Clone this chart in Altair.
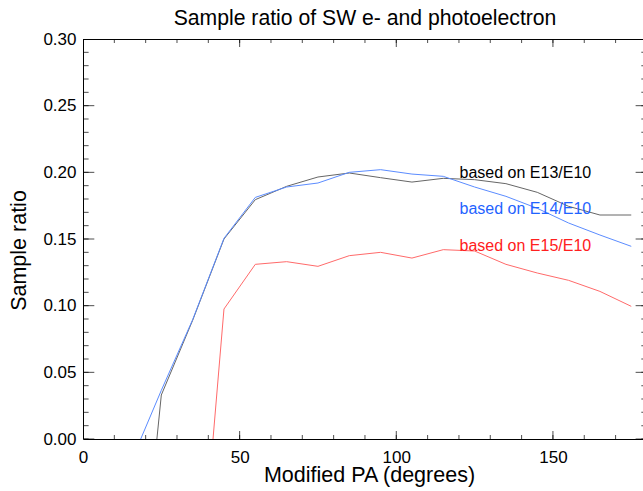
import altair as alt
import pandas as pd

# ---- data ----
pa = [15, 25, 35, 45, 55, 65, 75, 85, 95, 105, 115, 125, 135, 145, 155, 165, 175]
ratio_e13 = [-0.200, 0.033, 0.089, 0.150, 0.1795, 0.1895, 0.1965, 0.1995, 0.196,
             0.1927, 0.1955, 0.1945, 0.1915, 0.185, 0.1745, 0.168, 0.168]
ratio_e14 = [-0.019, 0.0365, 0.0895, 0.1505, 0.1812, 0.189, 0.192, 0.200, 0.202,
             0.1987, 0.197, 0.189, 0.182, 0.173, 0.162, 0.153, 0.1445]
pa_e15 = [35, 45, 55, 65, 75, 85, 95, 105, 115, 125, 135, 145, 155, 165, 175]
ratio_e15 = [-0.181, 0.0975, 0.131, 0.133, 0.1295, 0.1375, 0.140, 0.1357, 0.142,
             0.141, 0.131, 0.1245, 0.119, 0.1107, 0.0995]

series_names = ["based on E13/E10", "based on E14/E10", "based on E15/E10"]
line_colors = ["#666666", "#5b8cff", "#ff6a6a"]
text_colors = ["#000000", "#1f63ff", "#ff2020"]
label_pa = [120.2, 120.2, 120.2]
label_ratio = [0.1957, 0.169, 0.1407]

x_major = [0, 50, 100, 150]
x_minor = [0, 10, 20, 30, 40, 50, 60, 70, 80, 90, 100, 110, 120, 130, 140, 150, 160, 170, 180]
y_major = [0.0, 0.05, 0.10, 0.15, 0.20, 0.25, 0.30]
y_minor = [0.00, 0.01, 0.02, 0.03, 0.04, 0.05, 0.06, 0.07, 0.08, 0.09, 0.10,
           0.11, 0.12, 0.13, 0.14, 0.15, 0.16, 0.17, 0.18, 0.19, 0.20,
           0.21, 0.22, 0.23, 0.24, 0.25, 0.26, 0.27, 0.28, 0.29, 0.30]

rows = []
for name, xs, ys in [(series_names[0], pa, ratio_e13),
                     (series_names[1], pa, ratio_e14),
                     (series_names[2], pa_e15, ratio_e15)]:
    for i, (a, b) in enumerate(zip(xs, ys)):
        rows.append({"pa": a, "ratio": b, "series": name, "i": i})
lines_df = pd.DataFrame(rows)

labels_df = pd.DataFrame({"pa": label_pa, "ratio": label_ratio,
                          "text": series_names, "color": text_colors})

FONT = "Liberation Sans"
xscale = alt.Scale(domain=[0, 178.75], nice=False, zero=False)
yscale = alt.Scale(domain=[0, 0.30], nice=False, zero=False)

xaxis = alt.Axis(values=x_major, tickSize=0, labelPadding=10, labelFontSize=17,
                 labelFont=FONT, labelColor="black", labelFlush=False,
                 title="Modified PA (degrees)", titleFont=FONT, titleFontSize=21.5,
                 titleFontWeight="normal", titleColor="black", titlePadding=-1,
                 titleX=286, domainColor="black", domainWidth=1, grid=False)
yaxis = alt.Axis(values=y_major, format=".2f", tickSize=0, labelPadding=7,
                 labelFontSize=17, labelFont=FONT, labelColor="black", labelFlush=False,
                 title="Sample ratio", titleFont=FONT, titleFontSize=21.5,
                 titleFontWeight="normal", titleColor="black", titlePadding=12,
                 titleY=211, domainColor="black", domainWidth=1, grid=False)

lines = alt.Chart(lines_df).mark_line(clip=True, strokeWidth=1).encode(
    x=alt.X("pa:Q", scale=xscale, axis=xaxis),
    y=alt.Y("ratio:Q", scale=yscale, axis=yaxis),
    color=alt.Color("series:N", scale=alt.Scale(domain=series_names, range=line_colors),
                    legend=None),
    order="i:Q",
)

texts = alt.Chart(labels_df).mark_text(align="left", baseline="alphabetic",
                                       fontSize=16, font=FONT).encode(
    x=alt.X("pa:Q", scale=xscale, axis=xaxis),
    y=alt.Y("ratio:Q", scale=yscale, axis=yaxis),
    text="text:N",
    color=alt.Color("color:N", scale=None),
)

ymaj_df = pd.DataFrame({"v": y_major})
ymin_df = pd.DataFrame({"v": y_minor})
xmaj_df = pd.DataFrame({"v": x_major})
xmin_df = pd.DataFrame({"v": x_minor})

def yticks(df, at, size):
    return alt.Chart(df).mark_tick(orient="horizontal", size=size, thickness=1,
                                   color="black", clip=True).encode(
        x=alt.XDatum(at, scale=xscale, axis=xaxis),
        y=alt.Y("v:Q", scale=yscale, axis=yaxis),
    )

def xticks(df, at, size):
    return alt.Chart(df).mark_tick(orient="vertical", size=size, thickness=1,
                                   color="black", clip=True).encode(
        x=alt.X("v:Q", scale=xscale, axis=xaxis),
        y=alt.YDatum(at, scale=yscale, axis=yaxis),
    )

top_line = alt.Chart(ymaj_df).mark_rule(color="black", strokeWidth=1, clip=True).encode(
    y=alt.YDatum(0.30, scale=yscale, axis=yaxis),
)

chart = alt.layer(
    lines, texts,
    yticks(ymaj_df, 0, 22.6), yticks(ymin_df, 0, 11.2),
    yticks(ymaj_df, 180, 22.6), yticks(ymin_df, 180, 11.2),
    xticks(xmaj_df, 0, 16), xticks(xmin_df, 0, 8),
    xticks(xmaj_df, 0.30, 16), xticks(xmin_df, 0.30, 8),
    top_line,
).properties(
    width=560, height=400,
    title=alt.TitleParams("Sample ratio of SW e- and photoelectron", font=FONT,
                          fontSize=21.2, fontWeight="normal", color="black",
                          anchor="middle", frame="group", baseline="alphabetic",
                          offset=11, dx=2, dy=27),
    padding={"left": 83, "top": 39, "right": 0, "bottom": 52},
    autosize=alt.AutoSizeParams(type="none"),
).configure_view(stroke=None).configure(background="white")

chart.save("out.html", embed_options={"renderer": "svg", "actions": False})
